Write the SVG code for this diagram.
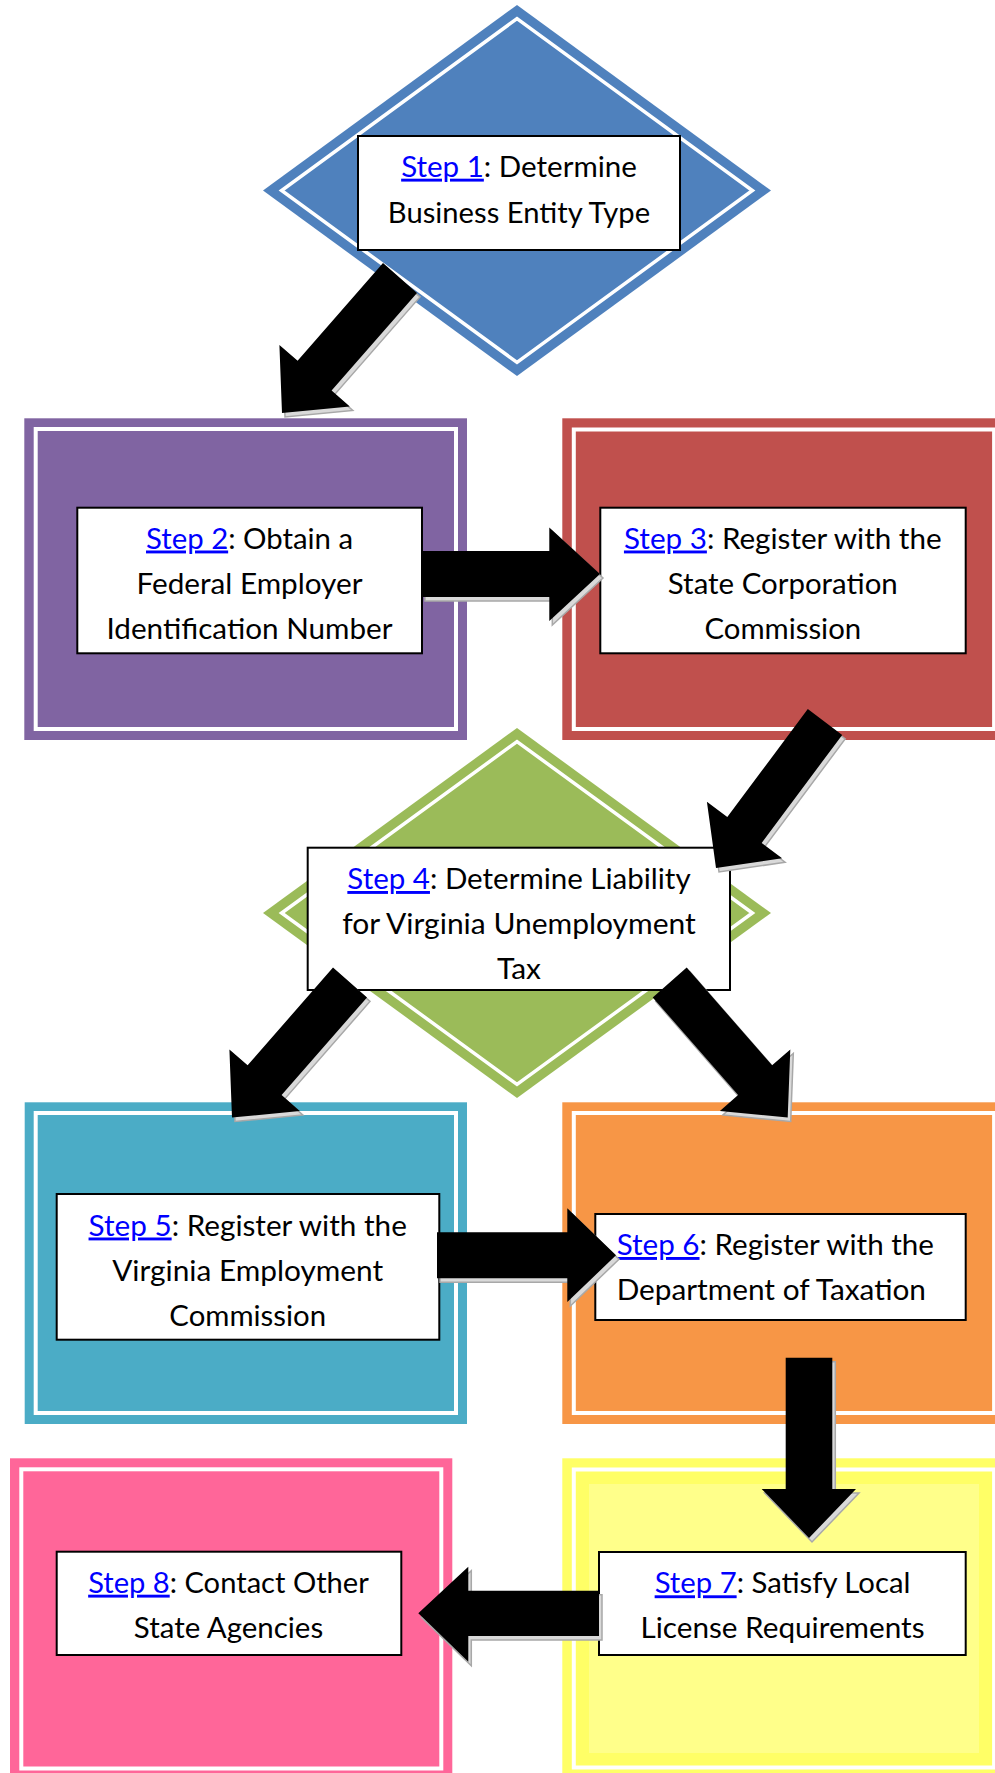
<svg xmlns="http://www.w3.org/2000/svg" width="995" height="1773" viewBox="0 0 995 1773">
<style>
.t{font-family:Lato,'Open Sans','Liberation Sans',sans-serif;font-size:29px;fill:#000}
.l{fill:#0000FF;text-decoration:underline}
.box{fill:#fff;stroke:#000;stroke-width:2}
.wl{fill:none;stroke:#fff;stroke-width:4}
.wd{fill:none;stroke:#fff;stroke-width:3.5}
.arr{fill:#000}
.sh{fill:#d9d9d9;stroke:#a8a8a8;stroke-width:1.5}
</style>
<rect width="995" height="1773" fill="#fff"/>

<g id="step1">
<polygon points="517,5 771,190.5 517,376 263,190.5" fill="#4F81BD"/>
<polygon class="wd" points="517,18.6 752.4,190.5 517,362.4 281.6,190.5"/>
<rect class="box" x="358" y="136" width="322" height="114"/>
<text class="t" x="519" y="176.7" text-anchor="middle" textLength="235.7" lengthAdjust="spacingAndGlyphs"><tspan class="l">Step 1</tspan>: Determine</text>
<text class="t" x="519" y="222.7" text-anchor="middle" textLength="262.3" lengthAdjust="spacingAndGlyphs">Business Entity Type</text>
</g>

<g id="step2">
<rect x="24.3" y="418.3" width="442.7" height="321.7" fill="#8064A2"/>
<rect class="wl" x="35.7" y="429" width="420.3" height="300"/>
<rect class="box" x="77.3" y="507.7" width="344.7" height="145.6"/>
<text class="t" x="249.5" y="548.5" text-anchor="middle" textLength="207" lengthAdjust="spacingAndGlyphs"><tspan class="l">Step 2</tspan>: Obtain a</text>
<text class="t" x="249.5" y="593.5" text-anchor="middle" textLength="226" lengthAdjust="spacingAndGlyphs">Federal Employer</text>
<text class="t" x="249.5" y="638.5" text-anchor="middle" textLength="286" lengthAdjust="spacingAndGlyphs">Identification Number</text>
</g>

<g id="step3">
<rect x="562.3" y="418.3" width="442.7" height="321.7" fill="#C0504D"/>
<rect class="wl" x="573.8" y="429.5" width="420.3" height="299.5"/>
<rect class="box" x="600.3" y="507.7" width="365.4" height="145.6"/>
<text class="t" x="782.8" y="548.5" text-anchor="middle" textLength="317.7" lengthAdjust="spacingAndGlyphs"><tspan class="l">Step 3</tspan>: Register with the</text>
<text class="t" x="782.8" y="593.5" text-anchor="middle" textLength="230" lengthAdjust="spacingAndGlyphs">State Corporation</text>
<text class="t" x="782.8" y="638.5" text-anchor="middle" textLength="156.7" lengthAdjust="spacingAndGlyphs">Commission</text>
</g>

<g id="step4">
<polygon points="517,728 771,913 517,1098 263,913" fill="#9BBB59"/>
<polygon class="wd" points="517,741.6 752.4,913 517,1084.4 281.6,913"/>
<rect class="box" x="307.7" y="847.7" width="422.3" height="142.3"/>
<text class="t" x="519" y="889" text-anchor="middle" textLength="343.3" lengthAdjust="spacingAndGlyphs"><tspan class="l">Step 4</tspan>: Determine Liability</text>
<text class="t" x="519" y="934" text-anchor="middle" textLength="353.7" lengthAdjust="spacingAndGlyphs">for Virginia Unemployment</text>
<text class="t" x="519" y="979" text-anchor="middle" textLength="44" lengthAdjust="spacingAndGlyphs">Tax</text>
</g>

<g id="step5">
<rect x="24.7" y="1102.3" width="442.3" height="321.7" fill="#4BACC6"/>
<rect class="wl" x="35.7" y="1113" width="420.3" height="300"/>
<rect class="box" x="56.7" y="1194" width="382.6" height="145.7"/>
<text class="t" x="247.7" y="1235.5" text-anchor="middle" textLength="318.3" lengthAdjust="spacingAndGlyphs"><tspan class="l">Step 5</tspan>: Register with the</text>
<text class="t" x="247.7" y="1280.5" text-anchor="middle" textLength="271" lengthAdjust="spacingAndGlyphs">Virginia Employment</text>
<text class="t" x="247.7" y="1325.5" text-anchor="middle" textLength="156.7" lengthAdjust="spacingAndGlyphs">Commission</text>
</g>

<g id="step6">
<rect x="562.3" y="1102.3" width="442.7" height="321.7" fill="#F79646"/>
<rect class="wl" x="573.8" y="1113" width="420.3" height="300"/>
<rect class="box" x="595.3" y="1214" width="370.4" height="106"/>
<text class="t" x="616.7" y="1255" textLength="317.3" lengthAdjust="spacingAndGlyphs"><tspan class="l">Step 6</tspan>: Register with the</text>
<text class="t" x="616.7" y="1300" textLength="309.3" lengthAdjust="spacingAndGlyphs">Department of Taxation</text>
</g>

<g id="step7">
<rect x="562.3" y="1458.3" width="442.7" height="330" fill="#FFFF66"/>
<rect x="573.8" y="1469.5" width="420.3" height="298" fill="#FFFF66"/>
<rect x="589" y="1484" width="390" height="269" fill="#FFFF8A"/>
<rect class="wl" x="573.8" y="1469.5" width="420.3" height="298"/>
<rect class="box" x="599" y="1552" width="366.7" height="103"/>
<text class="t" x="782.5" y="1593.3" text-anchor="middle" textLength="255.7" lengthAdjust="spacingAndGlyphs"><tspan class="l">Step 7</tspan>: Satisfy Local</text>
<text class="t" x="782.5" y="1638.3" text-anchor="middle" textLength="284" lengthAdjust="spacingAndGlyphs">License Requirements</text>
</g>

<g id="step8">
<rect x="10" y="1458.3" width="442.3" height="330" fill="#FF6699"/>
<rect class="wl" x="21.3" y="1469.3" width="420" height="299.2"/>
<rect class="box" x="56.7" y="1551.7" width="344.6" height="103.3"/>
<text class="t" x="228.5" y="1592.7" text-anchor="middle" textLength="280.7" lengthAdjust="spacingAndGlyphs"><tspan class="l">Step 8</tspan>: Contact Other</text>
<text class="t" x="228.5" y="1637.7" text-anchor="middle" textLength="189.3" lengthAdjust="spacingAndGlyphs">State Agencies</text>
</g>

<g id="connectors">
<defs>
<polygon id="a1" points="383,263.1 297.6,360.8 279.4,344.9 282,413 349.8,406.5 331.6,390.6 417,292.9"/>
<polygon id="a2" points="422,551 549.3,551 549.3,527.5 600,574 549.3,621 549.3,597 422,597"/>
<polygon id="a3" points="807.8,709.1 727.3,817.1 706.9,801.8 716,868 782.1,858.2 761.7,842.9 842.2,734.9"/>
<polygon id="a4" points="333,967.6 247.6,1065.3 229.4,1049.4 232,1117.5 299.8,1111 281.6,1095.1 367,997.4"/>
<polygon id="a5" points="686.7,967.6 772.1,1065.3 790.3,1049.4 787.7,1117.5 719.9,1111 738.1,1095.1 652.7,997.4"/>
<polygon id="a6" points="437,1232.3 567.3,1232.3 567.3,1208.3 616,1255.3 567.3,1302 567.3,1278.3 437,1278.3"/>
<polygon id="a7" points="785.7,1357.7 832.3,1357.7 832.3,1489 856,1489 809,1538 761.7,1489 785.7,1489"/>
<polygon id="a8" points="599,1590.7 468.3,1590.7 468.3,1566.7 418.3,1613.3 468.3,1661.7 468.3,1636 599,1636"/>
</defs>
<g class="sh" transform="translate(3,4)">
<use href="#a1"/><use href="#a2"/><use href="#a3"/><use href="#a4"/>
<use href="#a5"/><use href="#a6"/><use href="#a7"/><use href="#a8"/>
</g>
<g class="arr">
<use href="#a1"/><use href="#a2"/><use href="#a3"/><use href="#a4"/>
<use href="#a5"/><use href="#a6"/><use href="#a7"/><use href="#a8"/>
</g>
</g>
</svg>
